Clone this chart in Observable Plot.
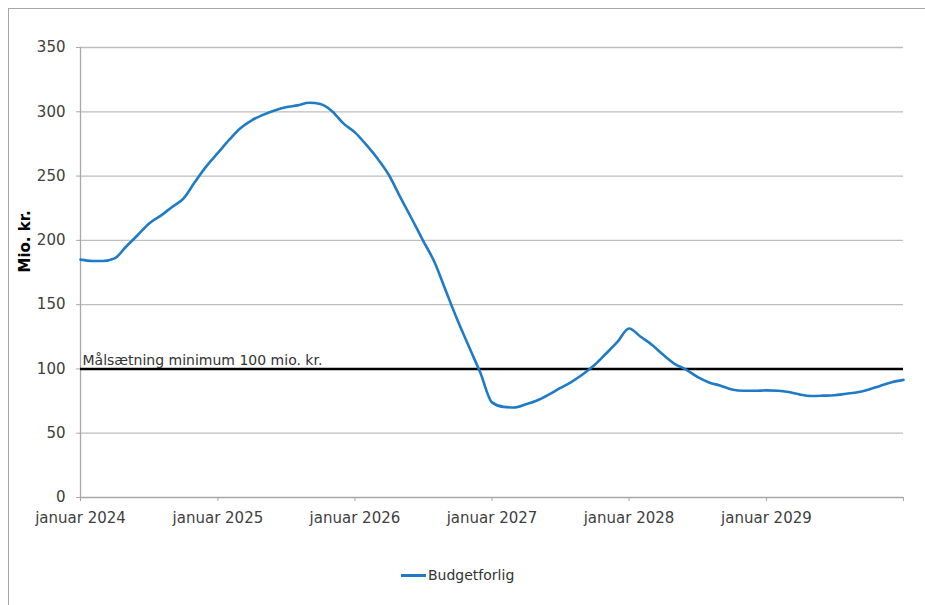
<!DOCTYPE html>
<html>
<head>
<meta charset="utf-8">
<script src="https://cdn.jsdelivr.net/npm/d3@7"></script>
<script src="https://cdn.jsdelivr.net/npm/@observablehq/plot@0.6"></script>
<style>
  html, body { margin: 0; padding: 0; background: #fff; overflow: hidden; }
  #wrap { position: relative; width: 925px; height: 605px; overflow: hidden; font-family: "DejaVu Sans", Verdana, sans-serif; }
  #frame { position: absolute; left: 8px; top: 8px; width: 917px; height: 597px; border-left: 1px solid #a6a6a6; border-top: 1px solid #a6a6a6; box-sizing: border-box; pointer-events: none; }
  #chart { position: absolute; left: 0; top: 0; }
  #legend { position: absolute; left: 401px; top: 565px; height: 20px; display: flex; align-items: center; font-size: 14px; color: #333; }
  #legend .swatch { width: 25px; height: 3px; background: #1f7bc7; margin-right: 2px; }
</style>
</head>
<body>
<div id="wrap">
  <div id="chart"></div>
  <div id="frame"></div>
  <div id="legend"><span class="swatch"></span><span id="legendText"></span></div>
</div>
<script>
// ---- Data ----
const seriesName = "Budgetforlig";
const startMonth = "2024-01-01";
const endMonth = "2030-01-01";
// Monthly values, Jan 2024 .. Jan 2030 (mio. kr.)
const values = [
  185, 184, 184, 186, 195, 204, 213, 219, 226, 232.5, 245.5, 257.5,
  268, 278.5, 287, 293.4, 297.6, 301, 303.5, 305, 307, 306, 300.5, 291,
  284, 274, 264, 251, 234, 217, 200, 183, 160, 138, 117, 97,
  74, 70.5, 70, 72.5, 75.5, 80, 85, 90, 96, 103, 112, 121,
  131.5, 125, 119, 111, 104, 99.5, 93.8, 89.5, 87, 84, 83, 83,
  83.3, 83, 82, 80, 79, 79.2, 79.5, 80.7, 81.8, 84, 87, 89.7,
  91.5
];
const targetValue = 100;
const targetLabel = "Målsætning minimum 100 mio. kr.";
const yTicks = [0, 50, 100, 150, 200, 250, 300, 350];
const xTickYears = [2024, 2025, 2026, 2027, 2028, 2029, 2030];
const xLabeledYears = [2024, 2025, 2026, 2027, 2028, 2029];
const yLabel = "Mio. kr.";

// ---- Build ----
const months = d3.utcMonth.range(new Date(startMonth), d3.utcDay.offset(new Date(endMonth), 1));
const data = months.map((d, i) => ({date: d, value: values[i]}));
const xTicks = xTickYears.map(y => new Date(Date.UTC(y, 0, 1)));
const x0 = new Date(startMonth), x1 = new Date(endMonth);

const chart = Plot.plot({
  width: 925,
  height: 545,
  marginLeft: 80,
  marginRight: 22,
  marginTop: 47,
  marginBottom: 48,
  style: {fontFamily: "DejaVu Sans, Verdana, sans-serif", fontSize: "15px", color: "#404040", background: "transparent"},
  x: {type: "utc", domain: [x0, x1]},
  y: {domain: [0, 350]},
  marks: [
    Plot.gridY(yTicks.filter(t => t > 0), {stroke: "#bdbdbd", strokeOpacity: 1, strokeWidth: 1.3}),
    Plot.ruleY([0], {stroke: "#a8a8a8", strokeWidth: 1.5}),
    Plot.ruleX([x0], {stroke: "#a8a8a8", strokeWidth: 1.3}),
    Plot.axisY({ticks: yTicks, tickSize: 4, tickPadding: 11, label: null, stroke: "#a8a8a8", fill: "#404040"}),
    Plot.axisX({ticks: xTicks, tickSize: 4, tickPadding: 11, label: null, stroke: "#a8a8a8", fill: "#404040",
      tickFormat: d => xLabeledYears.includes(d.getUTCFullYear()) ? "januar " + d.getUTCFullYear() : ""}),
    Plot.ruleY([targetValue], {stroke: "#000", strokeWidth: 2.4}),
    Plot.text([targetLabel], {x: x0, y: targetValue, text: d => d, textAnchor: "start", lineAnchor: "bottom", dx: 2, dy: -4, fontSize: 14, fill: "#333"}),
    Plot.line(data, {x: "date", y: "value", stroke: "#1f7bc7", strokeWidth: 2.6, strokeLinejoin: "round", curve: "monotone-x"}),
    Plot.text([yLabel], {frameAnchor: "left", text: d => d, rotate: -90, dx: -55, fontWeight: "bold", fontSize: 15, fill: "#000"})
  ]
});
document.getElementById("chart").appendChild(chart);
document.getElementById("legendText").textContent = seriesName;
</script>
</body>
</html>
